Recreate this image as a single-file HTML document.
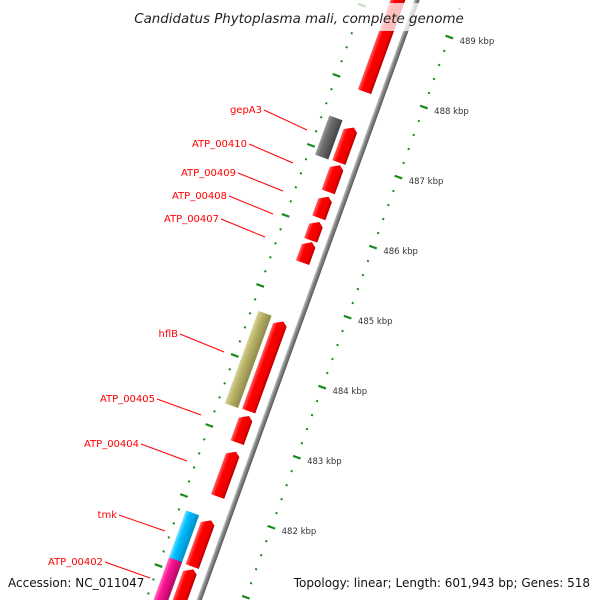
<!DOCTYPE html>
<html><head><meta charset="utf-8">
<style>
html,body{margin:0;padding:0;background:#fff;width:600px;height:600px;overflow:hidden;}
svg{display:block;overflow:hidden;font-family:"DejaVu Sans","Liberation Sans",sans-serif;}
</style></head>
<body>
<svg id="chart" width="600" height="600" viewBox="0 0 600 600">
<defs>
<linearGradient id="gRed" x1="0" y1="0" x2="1" y2="0"><stop offset="0" stop-color="#ff6060"/><stop offset="0.3" stop-color="#ff0000"/><stop offset="0.8" stop-color="#ee0000"/><stop offset="1" stop-color="#b00000"/></linearGradient>
<linearGradient id="gGray" x1="0" y1="0" x2="1" y2="0"><stop offset="0" stop-color="#999"/><stop offset="0.3" stop-color="#6e6e6e"/><stop offset="1" stop-color="#444"/></linearGradient>
<linearGradient id="gKhaki" x1="0" y1="0" x2="1" y2="0"><stop offset="0" stop-color="#d8d49a"/><stop offset="0.3" stop-color="#bdb76b"/><stop offset="1" stop-color="#8f8a4c"/></linearGradient>
<linearGradient id="gBlue" x1="0" y1="0" x2="1" y2="0"><stop offset="0" stop-color="#70e0ff"/><stop offset="0.3" stop-color="#00bfff"/><stop offset="1" stop-color="#0090c8"/></linearGradient>
<linearGradient id="gPink" x1="0" y1="0" x2="1" y2="0"><stop offset="0" stop-color="#ff70c0"/><stop offset="0.3" stop-color="#ff1493"/><stop offset="1" stop-color="#b00a66"/></linearGradient>
<linearGradient id="gAxis" x1="0" y1="0" x2="1" y2="0"><stop offset="0" stop-color="#c8c8c8"/><stop offset="0.4" stop-color="#8a8a8a"/><stop offset="1" stop-color="#555"/></linearGradient>
</defs>
<g id="plot"></g>
<g id="labels"></g>
<rect x="130" y="3" width="340" height="28" fill="#fff" fill-opacity="0.75"/>
<text x="299" y="23" text-anchor="middle" font-style="italic" font-size="13.4" fill="#222">Candidatus Phytoplasma mali, complete genome</text>
<text x="8" y="587" font-size="12" fill="#111">Accession: NC_011047</text>
<text x="590" y="587" text-anchor="end" font-size="12" fill="#111">Topology: linear; Length: 601,943 bp; Genes: 518</text>
</svg>
<script>
// ---- data ----
const featStart = [490.0, 487.42, 486.88, 486.43, 486.07, 485.78, 484.65, 483.30, 482.79, 481.81, 481.11, 487.46, 484.67, 481.82, 481.15];
const featEnd   = [487.92, 486.91, 486.49, 486.12, 485.80, 485.48, 483.36, 482.91, 482.14, 481.14, 480.37, 486.90, 483.35, 481.12, 480.0];
const featRow   = [0,0,0,0,0,0,0,0,0,0,0,1,1,1,1];
const featType  = ["red","red","red","red","red","red","red","red","red","red","red","gray","khaki","blue","pink"];
const featArrow = [false,true,true,true,true,true,true,true,true,true,true,false,false,false,false];
const tickKbp = [482,483,484,485,486,487,488,489];
const tickLabels = ["482 kbp","483 kbp","484 kbp","485 kbp","486 kbp","487 kbp","488 kbp","489 kbp"];
const geneNames = ["gepA3","ATP_00410","ATP_00409","ATP_00408","ATP_00407","hflB","ATP_00405","ATP_00404","tmk","ATP_00402"];

// ---- axis geometry ----
const TH = Math.atan(0.363), S = Math.sin(TH), C = Math.cos(TH);
const OX = 417, OY = 0;
function vOf(kbp){ return 98.2 + (488 - kbp) * 74.5; }
function pt(u, v){ return [OX + u*C - v*S, OY + u*S + v*C]; }
const NS = "http://www.w3.org/2000/svg";
const plot = document.getElementById('plot');
const labG = document.getElementById('labels');
function mk(tag, attrs, parent){ const e = document.createElementNS(NS, tag); for (const k in attrs) e.setAttribute(k, attrs[k]); parent.appendChild(e); return e; }
const local = mk('g', {transform:`translate(${OX},${OY}) rotate(${TH*180/Math.PI})`}, plot);

// tick rings
for (let i = 4796; i <= 4906; i += 2) {
  const k = i/10, v = vOf(k), major = (i % 10 === 0);
  [43, -50].forEach(function(u){
    let e;
    if (major) e = mk('rect', {x:u-4, y:v-1, width:8, height:2.2, fill:'#1a8a1a'}, local);
    else e = mk('rect', {x:u-1, y:v-1, width:2, height:2, fill:'#1a8a1a'}, local);
    
    
  });
}
tickKbp.forEach(function(k, i){
  const p = pt(55, vOf(k) + 3);
  const t = mk('text', {x:p[0], y:p[1], 'font-size':8.5, fill:'#333'}, labG);
  t.textContent = tickLabels[i];
  
  
});

// backbone
const bb = mk('rect', {x:-2.5, y:-50, width:5, height:720, fill:'url(#gAxis)'}, local);



// features
const rowU = [[-25,-11],[-43,-29]];
const grad = {red:'url(#gRed)', gray:'url(#gGray)', khaki:'url(#gKhaki)', blue:'url(#gBlue)', pink:'url(#gPink)'};
featStart.forEach(function(s, i){
  const v1 = vOf(s), v2 = vOf(featEnd[i]);
  const a = rowU[featRow[i]][0], b = rowU[featRow[i]][1], m = (a+b)/2;
  let pts;
  if (featArrow[i]) pts = `${a},${v1+5} ${m+2},${v1} ${b},${v1+4} ${b},${v2} ${a},${v2}`;
  else pts = `${a},${v1} ${b},${v1} ${b},${v2} ${a},${v2}`;
  const e = mk('polygon', {points:pts, fill:grad[featType[i]]}, local);
  
  
});

// gene labels (text end -> feature)
const labPos = [[262,113,307,130],[247,147,293,163],[236,176,283,191],[227,199,273,214],[219,222,265,237],[178,337,224,352],[155,402,201,415],[139,447,187,461],[117,518,165,531],[103,565,150,578]];
geneNames.forEach(function(n, i){
  const q = labPos[i];
  const l = mk('line', {x1:q[0]+2, y1:q[1]-3, x2:q[2], y2:q[3], stroke:'#ff0000', 'stroke-width':1}, labG);
  
  
  const t = mk('text', {x:q[0], y:q[1], 'text-anchor':'end', 'font-size':10, fill:'#ff0000'}, labG);
  t.textContent = n;
  
  
});
</script>
</body></html>
